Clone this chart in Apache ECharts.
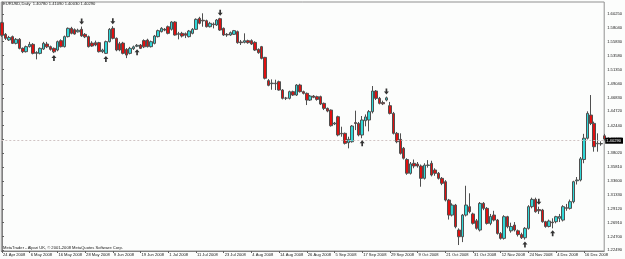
<!DOCTYPE html>
<html><head><meta charset="utf-8">
<script src="https://cdn.jsdelivr.net/npm/echarts@6/dist/echarts.min.js"></script>
<style>html,body{margin:0;padding:0;background:#fcfdfc}#c{width:625px;height:259px}</style>
</head><body><div id="c"></div>
<script>
// EURUSD Daily, bar 0 = 24 Apr 2008 (Mon-Fri bars)
const opens = [
1.5886,1.5700,1.5610,1.5663,1.5556,1.5620,1.5476,1.5423,1.5503,1.5540,
1.5396,1.5396,1.5465,1.5545,1.5503,1.5476,1.5449,1.5599,1.5503,1.5663,
1.5796,1.5775,1.5740,1.5780,1.5700,1.5663,1.5560,1.5567,1.5567,1.5423,
1.5396,1.5583,1.5796,1.5636,1.5550,1.5560,1.5460,1.5396,1.5470,1.5510,
1.5529,1.5600,1.5609,1.5503,1.5556,1.5663,1.5743,1.5780,1.5822,1.5780,
1.5897,1.5700,1.5716,1.5710,1.5663,1.5716,1.5780,1.5956,1.5925,1.5918,
1.5822,1.5865,1.5849,1.5950,1.5796,1.5700,1.5689,1.5700,1.5743,1.5578,
1.5572,1.5599,1.5599,1.5572,1.5460,1.5503,1.5332,1.4960,1.4912,1.4920,
1.4943,1.4810,1.4680,1.4677,1.4784,1.4730,1.4890,1.4784,1.4757,1.4650,
1.4714,1.4704,1.4704,1.4597,1.4517,1.4490,1.4267,1.4384,1.4118,1.4118,
1.3969,1.3984,1.4290,1.4277,1.4091,1.4320,1.4331,1.4464,1.4794,1.4677,
1.4610,1.4650,1.4560,1.4437,1.4118,1.4022,1.3880,1.3700,1.3479,1.3639,
1.3628,1.3596,1.3399,1.3605,1.3639,1.3532,1.3479,1.3399,1.3345,1.3052,
1.2812,1.2972,1.2573,1.2466,1.2812,1.2946,1.2830,1.2720,1.2573,1.2999,
1.2919,1.2679,1.2812,1.2732,1.2519,1.2440,1.2786,1.2560,1.2652,1.2560,
1.2500,1.2450,1.2600,1.2946,1.3063,1.2900,1.2892,1.2706,1.2630,1.2700,
1.2706,1.2760,1.2732,1.2930,1.2919,1.3026,1.3360,1.3372,1.3700,1.4040,
1.4410,1.4277,1.3950,1.3950,1.4078];
const highs = [
1.5900,1.5720,1.5675,1.5680,1.5640,1.5640,1.5490,1.5520,1.5580,1.5560,
1.5430,1.5490,1.5580,1.5580,1.5520,1.5490,1.5600,1.5620,1.5680,1.5810,
1.5820,1.5795,1.5790,1.5825,1.5720,1.5680,1.5590,1.5600,1.5580,1.5470,
1.5600,1.5800,1.5830,1.5650,1.5580,1.5580,1.5480,1.5500,1.5520,1.5545,
1.5545,1.5620,1.5630,1.5600,1.5690,1.5775,1.5815,1.5800,1.5840,1.5910,
1.5910,1.5740,1.5740,1.5730,1.5770,1.5800,1.5955,1.5980,1.6036,1.5935,
1.5900,1.5890,1.5945,1.5965,1.5810,1.5720,1.5745,1.5770,1.5760,1.5610,
1.5716,1.5615,1.5620,1.5590,1.5475,1.5515,1.5340,1.4985,1.4980,1.4975,
1.4960,1.4825,1.4700,1.4800,1.4800,1.4905,1.4910,1.4800,1.4770,1.4730,
1.4730,1.4720,1.4720,1.4610,1.4530,1.4500,1.4300,1.4400,1.4224,1.4130,
1.4064,1.4250,1.4480,1.4300,1.4395,1.4420,1.4490,1.4874,1.4810,1.4700,
1.4640,1.4705,1.4620,1.4460,1.4140,1.4118,1.3900,1.3720,1.3660,1.3700,
1.3660,1.3620,1.3640,1.3690,1.3680,1.3560,1.3500,1.3420,1.3370,1.3070,
1.3000,1.2990,1.2600,1.2830,1.3280,1.3160,1.2850,1.2750,1.3020,1.3020,
1.2940,1.2830,1.2880,1.2750,1.2540,1.2810,1.2800,1.2690,1.2700,1.2580,
1.2530,1.2620,1.2970,1.3090,1.3090,1.2946,1.2910,1.2720,1.2740,1.2760,
1.2800,1.2830,1.2970,1.2990,1.3060,1.3360,1.3420,1.3740,1.4110,1.4470,
1.4730,1.4305,1.4118,1.3990,1.4109];
const lows = [
1.5660,1.5610,1.5595,1.5545,1.5540,1.5460,1.5400,1.5410,1.5490,1.5380,
1.5300,1.5380,1.5450,1.5480,1.5440,1.5400,1.5430,1.5490,1.5490,1.5650,
1.5700,1.5695,1.5730,1.5660,1.5640,1.5490,1.5500,1.5510,1.5410,1.5400,
1.5385,1.5570,1.5620,1.5430,1.5430,1.5380,1.5320,1.5380,1.5450,1.5495,
1.5465,1.5480,1.5490,1.5490,1.5540,1.5650,1.5730,1.5750,1.5700,1.5760,
1.5680,1.5620,1.5650,1.5640,1.5650,1.5700,1.5770,1.5860,1.5822,1.5810,
1.5810,1.5795,1.5835,1.5755,1.5675,1.5660,1.5675,1.5690,1.5550,1.5530,
1.5556,1.5550,1.5530,1.5435,1.5390,1.5300,1.4980,1.4870,1.4815,1.4810,
1.4800,1.4660,1.4650,1.4660,1.4715,1.4715,1.4770,1.4740,1.4570,1.4635,
1.4680,1.4640,1.4570,1.4490,1.4455,1.4225,1.4250,1.4070,1.4064,1.3940,
1.3878,1.3970,1.4170,1.4070,1.4040,1.4230,1.4150,1.4437,1.4650,1.4580,
1.4570,1.4630,1.4420,1.4100,1.3960,1.3780,1.3700,1.3455,1.3460,1.3560,
1.3570,1.3265,1.3380,1.3570,1.3430,1.3440,1.3380,1.3290,1.3030,1.2740,
1.2790,1.2600,1.2333,1.2380,1.2790,1.2840,1.2660,1.2580,1.2550,1.2890,
1.2660,1.2650,1.2710,1.2500,1.2420,1.2420,1.2600,1.2530,1.2550,1.2470,
1.2430,1.2420,1.2580,1.2920,1.2850,1.2830,1.2690,1.2610,1.2615,1.2600,
1.2680,1.2700,1.2710,1.2880,1.2900,1.3000,1.3300,1.3350,1.3640,1.4020,
1.4250,1.3825,1.3825,1.3920,1.4003];
const closes = [
1.5684,1.5636,1.5650,1.5556,1.5620,1.5476,1.5423,1.5503,1.5540,1.5396,
1.5410,1.5476,1.5556,1.5500,1.5460,1.5420,1.5583,1.5503,1.5663,1.5796,
1.5716,1.5705,1.5765,1.5675,1.5660,1.5503,1.5513,1.5529,1.5423,1.5449,
1.5583,1.5780,1.5636,1.5449,1.5450,1.5396,1.5369,1.5476,1.5500,1.5525,
1.5476,1.5500,1.5503,1.5583,1.5673,1.5759,1.5796,1.5770,1.5716,1.5897,
1.5689,1.5710,1.5673,1.5685,1.5753,1.5780,1.5940,1.5876,1.5915,1.5822,
1.5876,1.5855,1.5929,1.5769,1.5689,1.5690,1.5727,1.5759,1.5567,1.5567,
1.5599,1.5567,1.5545,1.5449,1.5407,1.5316,1.4998,1.4885,1.4920,1.4910,
1.4810,1.4677,1.4680,1.4784,1.4730,1.4890,1.4784,1.4757,1.4650,1.4714,
1.4694,1.4660,1.4586,1.4517,1.4474,1.4240,1.4283,1.4091,1.4110,1.3958,
1.4022,1.4235,1.4275,1.4091,1.4331,1.4380,1.4464,1.4794,1.4677,1.4597,
1.4590,1.4685,1.4437,1.4118,1.3984,1.3798,1.3720,1.3480,1.3630,1.3596,
1.3596,1.3399,1.3610,1.3612,1.3452,1.3479,1.3399,1.3319,1.3052,1.2812,
1.2972,1.2626,1.2466,1.2812,1.2972,1.2866,1.2680,1.2600,1.2999,1.2919,
1.2679,1.2790,1.2732,1.2519,1.2440,1.2786,1.2626,1.2630,1.2573,1.2500,
1.2450,1.2600,1.2946,1.3063,1.2866,1.2880,1.2706,1.2630,1.2716,1.2690,
1.2786,1.2790,1.2946,1.2920,1.3026,1.3345,1.3372,1.3710,1.4040,1.4437,
1.4277,1.3904,1.3960,1.3955,1.4029];

const dateLabelBars = [0,8,16,24,32,40,48,56,64,72,80,88,96,104,112,120,128,136,144,152,160,168];
const dateLabels = ['24 Apr 2008','6 May 2008','16 May 2008','28 May 2008','9 Jun 2008','19 Jun 2008',
  '1 Jul 2008','11 Jul 2008','23 Jul 2008','4 Aug 2008','14 Aug 2008','26 Aug 2008','5 Sep 2008',
  '17 Sep 2008','29 Sep 2008','9 Oct 2008','21 Oct 2008','31 Oct 2008','12 Nov 2008','24 Nov 2008',
  '4 Dec 2008','16 Dec 2008'];
const priceTickLabels = ['1.60250','1.58040','1.55830','1.53580','1.51350','1.49040','1.46830','1.44720',
  '1.42440','1.40230','1.38020','1.35810','1.33600','1.31330','1.29120','1.26910','1.24700','1.22490'];
const arrowAboveBars = [23,32,63,111,155];
const arrowBelowBars = [15,30,39,104,151,159];
const lastPrice = '1.40290';
const headerText = 'EURUSD,Daily  1.40780 1.41090 1.40030 1.40290';
const footerText = 'MetaTrader - Alpari UK, \u00a9 2001-2008 MetaQuotes Software Corp.';

const candles = opens.map((o, i) => [i, o, closes[i], lows[i], highs[i]]);
const above = arrowAboveBars.map(i => [i, highs[i]]);
const below = arrowBelowBars.map(i => [i, lows[i]]);

// layout of the price scale (pixel geometry of the plot)
const topTickY = 14, bottomTickY = 250.3, gridTop = 2, gridBottomY = 251;
const pTop = parseFloat(priceTickLabels[0]);
const pBot = parseFloat(priceTickLabels[priceTickLabels.length - 1]);
const ppu = (bottomTickY - topTickY) / (pTop - pBot);
const yMax = pTop + (topTickY - gridTop) / ppu;
const yMin = pTop - (gridBottomY - topTickY) / ppu;

const F = 'Liberation Sans, Arial, sans-serif';
const FS = 4.1;
const chart = echarts.init(document.getElementById('c'), null, {renderer: 'canvas'});
chart.setOption({
  backgroundColor: '#fcfdfc',
  animation: false,
  title: {text: headerText, left: 3, top: 2, padding: 0,
    textStyle: {fontSize: FS, fontWeight: 'normal', color: '#202020', fontFamily: F}},
  graphic: [{type: 'text', left: 3, top: 245.6,
    style: {text: footerText, fontSize: FS, fontFamily: F, fill: '#202020'}}],
  grid: {left: 1, right: 17.5, top: gridTop, bottom: 259 - gridBottomY, show: true,
    borderColor: '#909090', borderWidth: 1, backgroundColor: 'transparent'},
  xAxis: {type: 'value', min: -0.2, max: 173.88, splitLine: {show: false},
    axisLine: {show: true, onZero: false, lineStyle: {color: '#808080', width: 1}},
    axisTick: {show: true, customValues: dateLabelBars, length: 2, lineStyle: {color: '#606060'}},
    axisLabel: {customValues: dateLabelBars, fontSize: FS, fontFamily: F, color: '#202020', margin: 2,
      align: 'left', padding: [0, 0, 0, 1],
      formatter: v => dateLabels[dateLabelBars.indexOf(Math.round(v))] || ''}},
  yAxis: {type: 'value', position: 'right', min: yMin, max: yMax, scale: true,
    splitLine: {show: false},
    axisLine: {show: true, lineStyle: {color: '#808080', width: 1}},
    axisTick: {show: true, customValues: priceTickLabels.map(Number), length: 2, lineStyle: {color: '#606060'}},
    axisLabel: {customValues: priceTickLabels.map(Number), fontSize: FS, fontFamily: F, color: '#202020', margin: 3,
      formatter: v => priceTickLabels.find(s => Math.abs(parseFloat(s) - v) < 1e-7) || v.toFixed(5)}},
  series: [
    {type: 'candlestick', data: candles, encode: {x: 0, y: [1, 2, 3, 4]}, barWidth: 3, clip: true,
      itemStyle: {color: '#30D8D8', color0: '#E01010', borderColor: '#505050', borderColor0: '#505050', borderWidth: 1},
      markLine: {silent: true, symbol: 'none', animation: false,
        lineStyle: {color: '#d0c4c4', type: [2, 2], width: 1},
        label: {show: true, position: 'end', distance: 1, formatter: lastPrice, backgroundColor: '#000',
          color: '#fff', fontSize: FS, fontFamily: F, padding: [1, 2, 1, 1]},
        data: [{yAxis: parseFloat(lastPrice)}]}},
    {type: 'scatter', data: above, symbol: 'path://M2,0 L4,0 L4,3 L6,3 L3,6 L0,3 L2,3 Z',
      symbolSize: [5, 6], symbolOffset: [0, -5], itemStyle: {color: '#000'}, z: 5},
    {type: 'scatter', data: below, symbol: 'path://M3,0 L6,3 L4,3 L4,6 L2,6 L2,3 L0,3 Z',
      symbolSize: [5, 6], symbolOffset: [0, 5], itemStyle: {color: '#000'}, z: 5}
  ]
});
</script></body></html>
